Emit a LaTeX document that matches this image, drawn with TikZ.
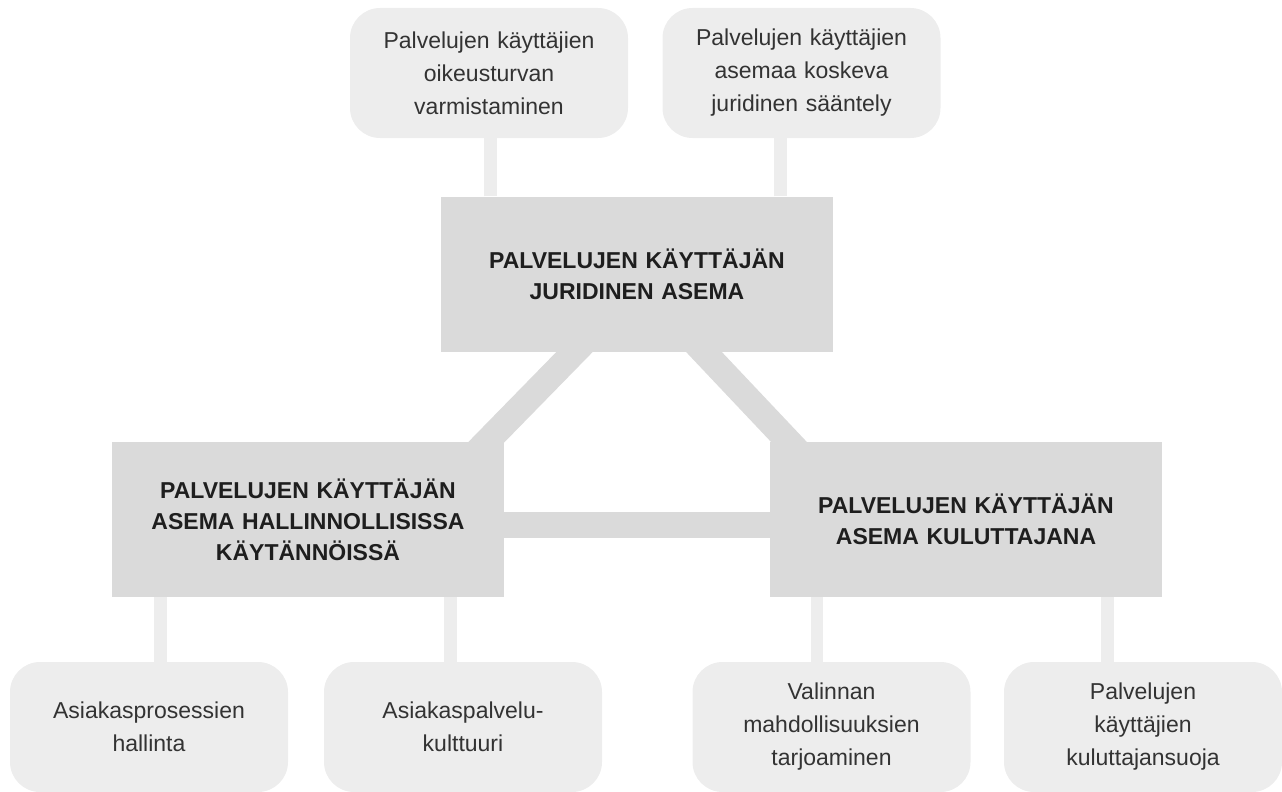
\documentclass[tikz,border=0pt]{standalone}
\usepackage{fontspec}
\setmainfont{Liberation Sans}
\usetikzlibrary{backgrounds,calc}
\definecolor{leafgray}{HTML}{EDEDED}
\definecolor{boxgray}{HTML}{DADADA}
\definecolor{leaftext}{HTML}{333333}
\definecolor{boxtext}{HTML}{1E1E1E}
\begin{document}
\begin{tikzpicture}[x=1pt,y=-1pt,
  leaf/.style={fill=leafgray,rounded corners=30pt,minimum width=278pt,minimum height=130pt,
    text width=262pt,align=center,inner sep=0pt,text=leaftext,font=\fontsize{23}{33}\selectfont},
  mainbox/.style={fill=boxgray,minimum width=392pt,minimum height=155pt,
    text width=380pt,align=center,inner sep=0pt,text=boxtext,font=\bfseries\fontsize{23}{31}\selectfont},
  leafline/.style={draw=leafgray,line width=12.5pt},
  mainline/.style={draw=boxgray,line width=26pt}]
\useasboundingbox (0,0) rectangle (1282,792);
% main boxes
\node[mainbox] (jur) at (637,274) {PALVELUJEN KÄYTTÄJÄN\\JURIDINEN ASEMA};
\node[mainbox] (adm) at (308,519.5) {PALVELUJEN KÄYTTÄJÄN\\ASEMA HALLINNOLLISISSA\\KÄYTÄNNÖISSÄ};
\node[mainbox] (con) at (966,519.5) {PALVELUJEN KÄYTTÄJÄN\\ASEMA KULUTTAJANA};
% leaves
\node[leaf] (tl1) at (489,73) {Palvelujen käyttäjien\\oikeusturvan\\varmistaminen};
\node[leaf] (tl2) at (801.5,73) {Palvelujen käyttäjien\\asemaa koskeva\\juridinen sääntely};
\node[leaf] (bl1) at (149,727) {Asiakasprosessien\\hallinta};
\node[leaf] (bl2) at (463,727) {Asiakaspalvelu-\\kulttuuri};
\node[leaf] (bl3) at (831.5,727) {Valinnan\\mahdollisuuksien\\tarjoaminen};
\node[leaf] (bl4) at (1143,727) {Palvelujen\\käyttäjien\\kuluttajansuoja};
\coordinate (d1a) at ([xshift=134pt]jur.south west);
\coordinate (d1b) at ([xshift=-17.5pt]adm.north east);
\coordinate (d2a) at ([xshift=-129.5pt]jur.south east);
\coordinate (d2b) at ([xshift=19pt]con.north west);
\begin{pgfonlayer}{background}
% links between main boxes
\draw[mainline] ($(d1a)!-15pt!(d1b)$) -- ($(d1b)!-15pt!(d1a)$);
\draw[mainline] ($(d2a)!-15pt!(d2b)$) -- ($(d2b)!-15pt!(d2a)$);
\draw[mainline] ([yshift=-5.5pt]adm.east) -- ([yshift=-5.5pt]con.west);
% links to leaves
\draw[leafline] ([xshift=49.5pt]jur.north west) -- ([xshift=49.5pt]jur.north west |- tl1.south);
\draw[leafline] ([xshift=-52.5pt]jur.north east) -- ([xshift=-52.5pt]jur.north east |- tl2.south);
\draw[leafline] ([xshift=48.5pt]adm.south west) -- ([xshift=48.5pt]adm.south west |- bl1.north);
\draw[leafline] ([xshift=-53.5pt]adm.south east) -- ([xshift=-53.5pt]adm.south east |- bl2.north);
\draw[leafline] ([xshift=47pt]con.south west) -- ([xshift=47pt]con.south west |- bl3.north);
\draw[leafline] ([xshift=-54.5pt]con.south east) -- ([xshift=-54.5pt]con.south east |- bl4.north);
\end{pgfonlayer}
\end{tikzpicture}
\end{document}
